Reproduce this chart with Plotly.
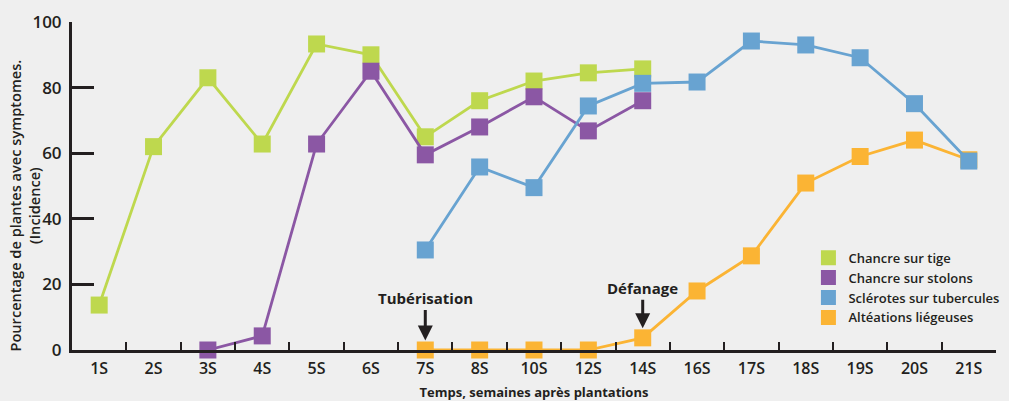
import plotly.graph_objects as go

weeks = ["1S", "2S", "3S", "4S", "5S", "6S", "7S", "8S", "10S", "12S", "14S",
         "16S", "17S", "18S", "19S", "20S", "21S"]

tige_x = ["1S", "2S", "3S", "4S", "5S", "6S", "7S", "8S", "10S", "12S", "14S"]
tige_y = [13.7, 62, 83, 62.8, 93.3, 90, 65, 76, 82, 84.5, 85.7]

stolons_x = ["3S", "4S", "5S", "6S", "7S", "8S", "10S", "12S", "14S"]
stolons_y = [0, 4.3, 62.8, 85, 59.5, 68, 77.2, 66.8, 76]

sclerotes_x = ["7S", "8S", "10S", "12S", "14S", "16S", "17S", "18S", "19S", "20S", "21S"]
sclerotes_y = [30.5, 55.8, 49.5, 74.4, 81.3, 81.7, 94.2, 93, 89.1, 75.1, 57.6]

alteations_x = ["7S", "8S", "10S", "12S", "14S", "16S", "17S", "18S", "19S", "20S", "21S"]
alteations_y = [0, 0, 0, 0, 3.7, 18, 28.7, 50.9, 59, 64, 58]

names = ["Chancre sur tige", "Chancre sur stolons", "Sclérotes sur tubercules", "Altéations liégeuses"]
colors = ["#bed84e", "#8b57a4", "#68a3d1", "#fbb434"]

FONT = "Open Sans"
DARK = "#231f20"
BG = "#efefef"

fig = go.Figure()

series = [
    (alteations_x, alteations_y, 3),
    (tige_x, tige_y, 0),
    (stolons_x, stolons_y, 1),
    (sclerotes_x, sclerotes_y, 2),
]
for xs, ys, i in series:
    fig.add_trace(go.Scatter(
        x=xs, y=ys, mode="lines+markers", name=names[i],
        line=dict(color=colors[i], width=2.8),
        marker=dict(symbol="square", size=17, color=colors[i]),
        showlegend=False, cliponaxis=False,
    ))

for i in range(4):
    fig.add_trace(go.Scatter(
        x=[None], y=[None], mode="markers", name=names[i],
        marker=dict(symbol="square", size=15, color=colors[i]),
        showlegend=True, legendrank=i + 1,
    ))

fig.add_annotation(x="7S", y=2.9, ax=0, ay=-42, text="<b>Tubérisation</b>",
                   showarrow=True, arrowhead=2, arrowsize=1.0, arrowwidth=3,
                   arrowcolor=DARK, font=dict(family=FONT, size=15, color=DARK))
fig.add_annotation(x="14S", y=6.6, ax=0, ay=-40, text="<b>Défanage</b>",
                   showarrow=True, arrowhead=2, arrowsize=1.0, arrowwidth=3,
                   arrowcolor=DARK, font=dict(family=FONT, size=15, color=DARK))

# y-axis title as rotated annotation
fig.add_annotation(x=-0.051, y=0.44, xref="paper", yref="paper", showarrow=False,
                   textangle=-90, xanchor="center", yanchor="middle",
                   text="Pourcentage de plantes avec symptomes.<br>(Incidence)",
                   font=dict(family=FONT, size=14.6, color=DARK, weight=600))

fig.update_layout(
    width=1009, height=401,
    margin=dict(l=72, r=13, t=22, b=51, autoexpand=False),
    paper_bgcolor=BG, plot_bgcolor=BG,
    font=dict(family=FONT, color=DARK),
    legend=dict(x=0.797, y=0.327, xanchor="left", yanchor="top",
                bgcolor="rgba(0,0,0,0)", font=dict(family=FONT, size=13, color=DARK, weight=600),
                itemwidth=30, tracegroupgap=0),
    xaxis=dict(
        type="category", categoryorder="array", categoryarray=weeks,
        range=[-0.5, 16.5], showgrid=False, zeroline=False, automargin=False,
        showline=True, linecolor=DARK, linewidth=3,
        ticks="inside", tickson="boundaries", ticklen=8, tickwidth=2, tickcolor=DARK,
        ticklabelstandoff=2,
        tickfont=dict(family=FONT, size=16, color=DARK, weight=600),
        title=dict(text="Temps, semaines après plantations", standoff=10,
                   font=dict(family=FONT, size=13, color=DARK, weight=700)),
    ),
    yaxis=dict(
        range=[0, 100], tickvals=[0, 20, 40, 60, 80, 100], showgrid=False, zeroline=False,
        automargin=False,
        showline=True, linecolor=DARK, linewidth=3,
        ticks="inside", ticklen=22, tickwidth=3, tickcolor=DARK,
        ticklabelstandoff=4,
        tickfont=dict(family=FONT, size=17, color=DARK, weight=600),
    ),
)

fig.write_html(
    "out.html",
    config={"displayModeBar": False},
    post_script="document.body.style.margin='0';document.body.style.background='" + BG + "';",
)
